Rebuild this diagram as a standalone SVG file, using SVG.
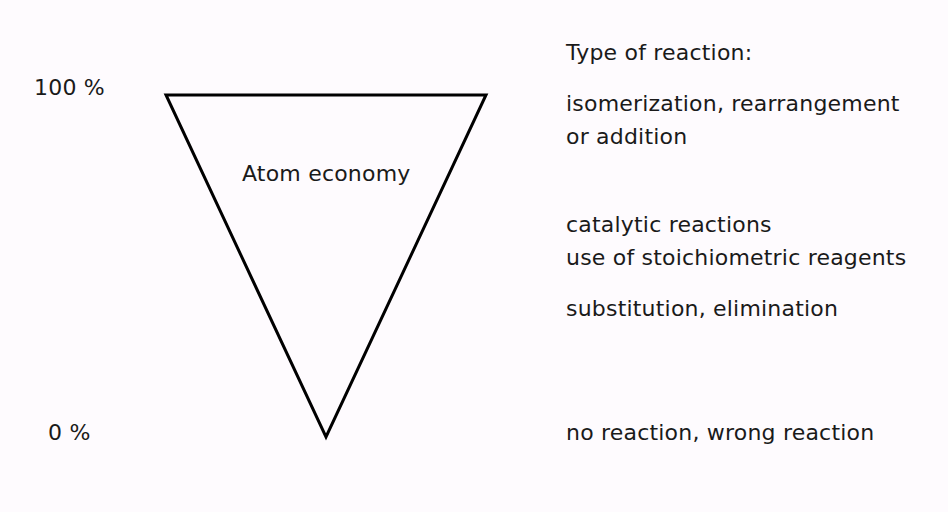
<svg xmlns="http://www.w3.org/2000/svg" width="948" height="512" viewBox="0 0 948 512">
<style>
text { font-family: "DejaVu Sans", Verdana, sans-serif; font-size: 22px; fill: #1a1a1a; letter-spacing: 0.2px; }
.tri { fill: none; stroke: #000; stroke-width: 3; stroke-linejoin: miter; }
</style>
<rect width="948" height="512" fill="#fefbfe"/>
<g id="triangle">
<polygon class="tri" points="166,95 486,95 326,437"/>
<text x="242" y="181">Atom economy</text>
</g>
<g id="scale">
<text x="34" y="95">100 %</text>
<text x="48" y="440">0 %</text>
</g>
<g id="types">
<text x="566" y="60">Type of reaction:</text>
<text x="566" y="111">isomerization, rearrangement</text>
<text x="566" y="144">or addition</text>
<text x="566" y="232">catalytic reactions</text>
<text x="566" y="265">use of stoichiometric reagents</text>
<text x="566" y="316">substitution, elimination</text>
<text x="566" y="440">no reaction, wrong reaction</text>
</g>
<g id="connectors"></g>
</svg>
